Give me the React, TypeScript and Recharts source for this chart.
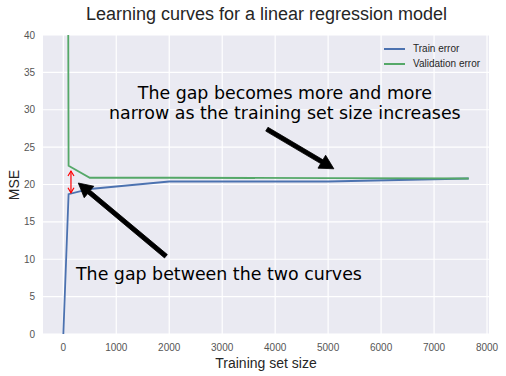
import { LineChart, Line, XAxis, YAxis, CartesianGrid, ReferenceLine, ReferenceDot } from "recharts";

// ── Data ───────────────────────────────────────────────────────────────
const trainSizes = [1, 100, 500, 2000, 5000, 7654];
const trainError = [0, 18.7, 19.4, 20.4, 20.4, 20.8];
const validationError = [300, 22.5, 20.9, 20.9, 20.85, 20.8];
const xTicks = [0, 1000, 2000, 3000, 4000, 5000, 6000, 7000, 8000];
const yTicks = [0, 5, 10, 15, 20, 25, 30, 35, 40];

const data = trainSizes.map((size, i) => ({ size, train: trainError[i], validation: validationError[i] }));

const BLUE = "#4C72B0";
const GREEN = "#55A868";
const SANS = "Liberation Sans, Arial, sans-serif";
const TICK = { fontSize: 10, fill: "#555", fontFamily: SANS };

// ── Arrow shapes ───────────────────────────────────────────────────────
function fatArrow(p: any) {
  const { x1, y1, x2, y2 } = p;
  const dx = x2 - x1, dy = y2 - y1;
  const len = Math.hypot(dx, dy);
  const ux = dx / len, uy = dy / len;
  const nx = -uy, ny = ux;
  const hl = 14, hw = 7.5, w = 2.2;
  const bx = x2 - ux * hl, by = y2 - uy * hl;
  const pts = [
    [x1 + nx * w, y1 + ny * w],
    [bx + nx * w, by + ny * w],
    [bx + nx * hw, by + ny * hw],
    [x2, y2],
    [bx - nx * hw, by - ny * hw],
    [bx - nx * w, by - ny * w],
    [x1 - nx * w, y1 - ny * w],
  ];
  return <polygon points={pts.map((q) => q.join(",")).join(" ")} fill="#000" stroke="#000" strokeWidth={0.8} strokeLinejoin="round" />;
}

function redArrow(p: any) {
  const { x1, y1, x2, y2 } = p;
  return (
    <g stroke="red" strokeWidth={1.2} fill="none">
      <line x1={x1} y1={y1} x2={x2} y2={y2} />
      <polyline points={`${x1 - 3},${y1 + 5} ${x1},${y1} ${x1 + 3},${y1 + 5}`} />
      <polyline points={`${x2 - 3},${y2 - 5} ${x2},${y2} ${x2 + 3},${y2 - 5}`} />
    </g>
  );
}

function note(lines: string[], anchor: "start" | "middle") {
  return (p: any) => (
    <text x={p.cx} y={p.cy} textAnchor={anchor} fontSize={17.4} fill="#000" fontFamily="DejaVu Sans, sans-serif">
      {lines.map((l, i) => (
        <tspan key={i} x={p.cx} dy={i === 0 ? 0 : 20}>{l}</tspan>
      ))}
    </text>
  );
}

// ── Legend ─────────────────────────────────────────────────────────────
function LegendBox() {
  const items = [
    { label: "Train error", color: BLUE },
    { label: "Validation error", color: GREEN },
  ];
  return (
    <div style={{ position: "absolute", left: 384, top: 41, fontFamily: SANS, fontSize: 10, color: "#262626" }}>
      {items.map((it) => (
        <div key={it.label} style={{ display: "flex", alignItems: "center", height: 15 }}>
          <span style={{ display: "inline-block", width: 21, height: 2, background: it.color, marginRight: 8 }} />
          {it.label}
        </div>
      ))}
    </div>
  );
}

export default function App() {
  return (
    <div style={{ position: "absolute", left: 0, top: 0, width: 506, height: 376, background: "#fff" }}>
      <div style={{ position: "absolute", left: 0, width: 533, top: 4, textAlign: "center", fontSize: 18, color: "#262626", fontFamily: SANS }}>
        Learning curves for a linear regression model
      </div>
      <div style={{ position: "absolute", left: 14, top: 185, transform: "translate(-50%, -50%) rotate(-90deg)", fontSize: 14, color: "#262626", fontFamily: SANS, whiteSpace: "nowrap" }}>
        MSE
      </div>
      <LineChart width={506} height={376} data={data} margin={{ top: 35, right: 17, bottom: 0, left: 0 }}>
        <CartesianGrid fill="#EAEAF2" stroke="#fff" strokeWidth={1.2} horizontalValues={yTicks} verticalValues={xTicks} />
        <XAxis
          dataKey="size" type="number" domain={[-383, 8037]} ticks={xTicks} allowDataOverflow
          axisLine={false} tickLine={false} tick={TICK} tickMargin={4} height={42}
          label={{ value: "Training set size", position: "insideBottom", offset: 8, fontSize: 14, fill: "#262626", fontFamily: SANS }}
        />
        <YAxis
          type="number" domain={[0, 40]} ticks={yTicks} allowDataOverflow
          axisLine={false} tickLine={false} tick={TICK} tickMargin={2} width={43}
        />
        <Line dataKey="train" stroke={BLUE} strokeWidth={1.8} dot={false} isAnimationActive={false} />
        <Line dataKey="validation" stroke={GREEN} strokeWidth={1.8} dot={false} isAnimationActive={false} />
        <ReferenceLine segment={[{ x: 145, y: 21.8 }, { x: 145, y: 18.9 }]} shape={redArrow} ifOverflow="visible" />
        <ReferenceLine segment={[{ x: 3843, y: 27.4 }, { x: 5108, y: 22.1 }]} shape={fatArrow} ifOverflow="visible" />
        <ReferenceLine segment={[{ x: 1938, y: 10.4 }, { x: 283, y: 20.2 }]} shape={fatArrow} ifOverflow="visible" />
        <ReferenceDot x={4183} y={31.4} r={0} ifOverflow="visible"
          shape={note(["The gap becomes more and more", "narrow as the training set size increases"], "middle")} />
        <ReferenceDot x={240} y={7.2} r={0} ifOverflow="visible" shape={note(["The gap between the two curves"], "start")} />
      </LineChart>
      <LegendBox />
    </div>
  );
}
